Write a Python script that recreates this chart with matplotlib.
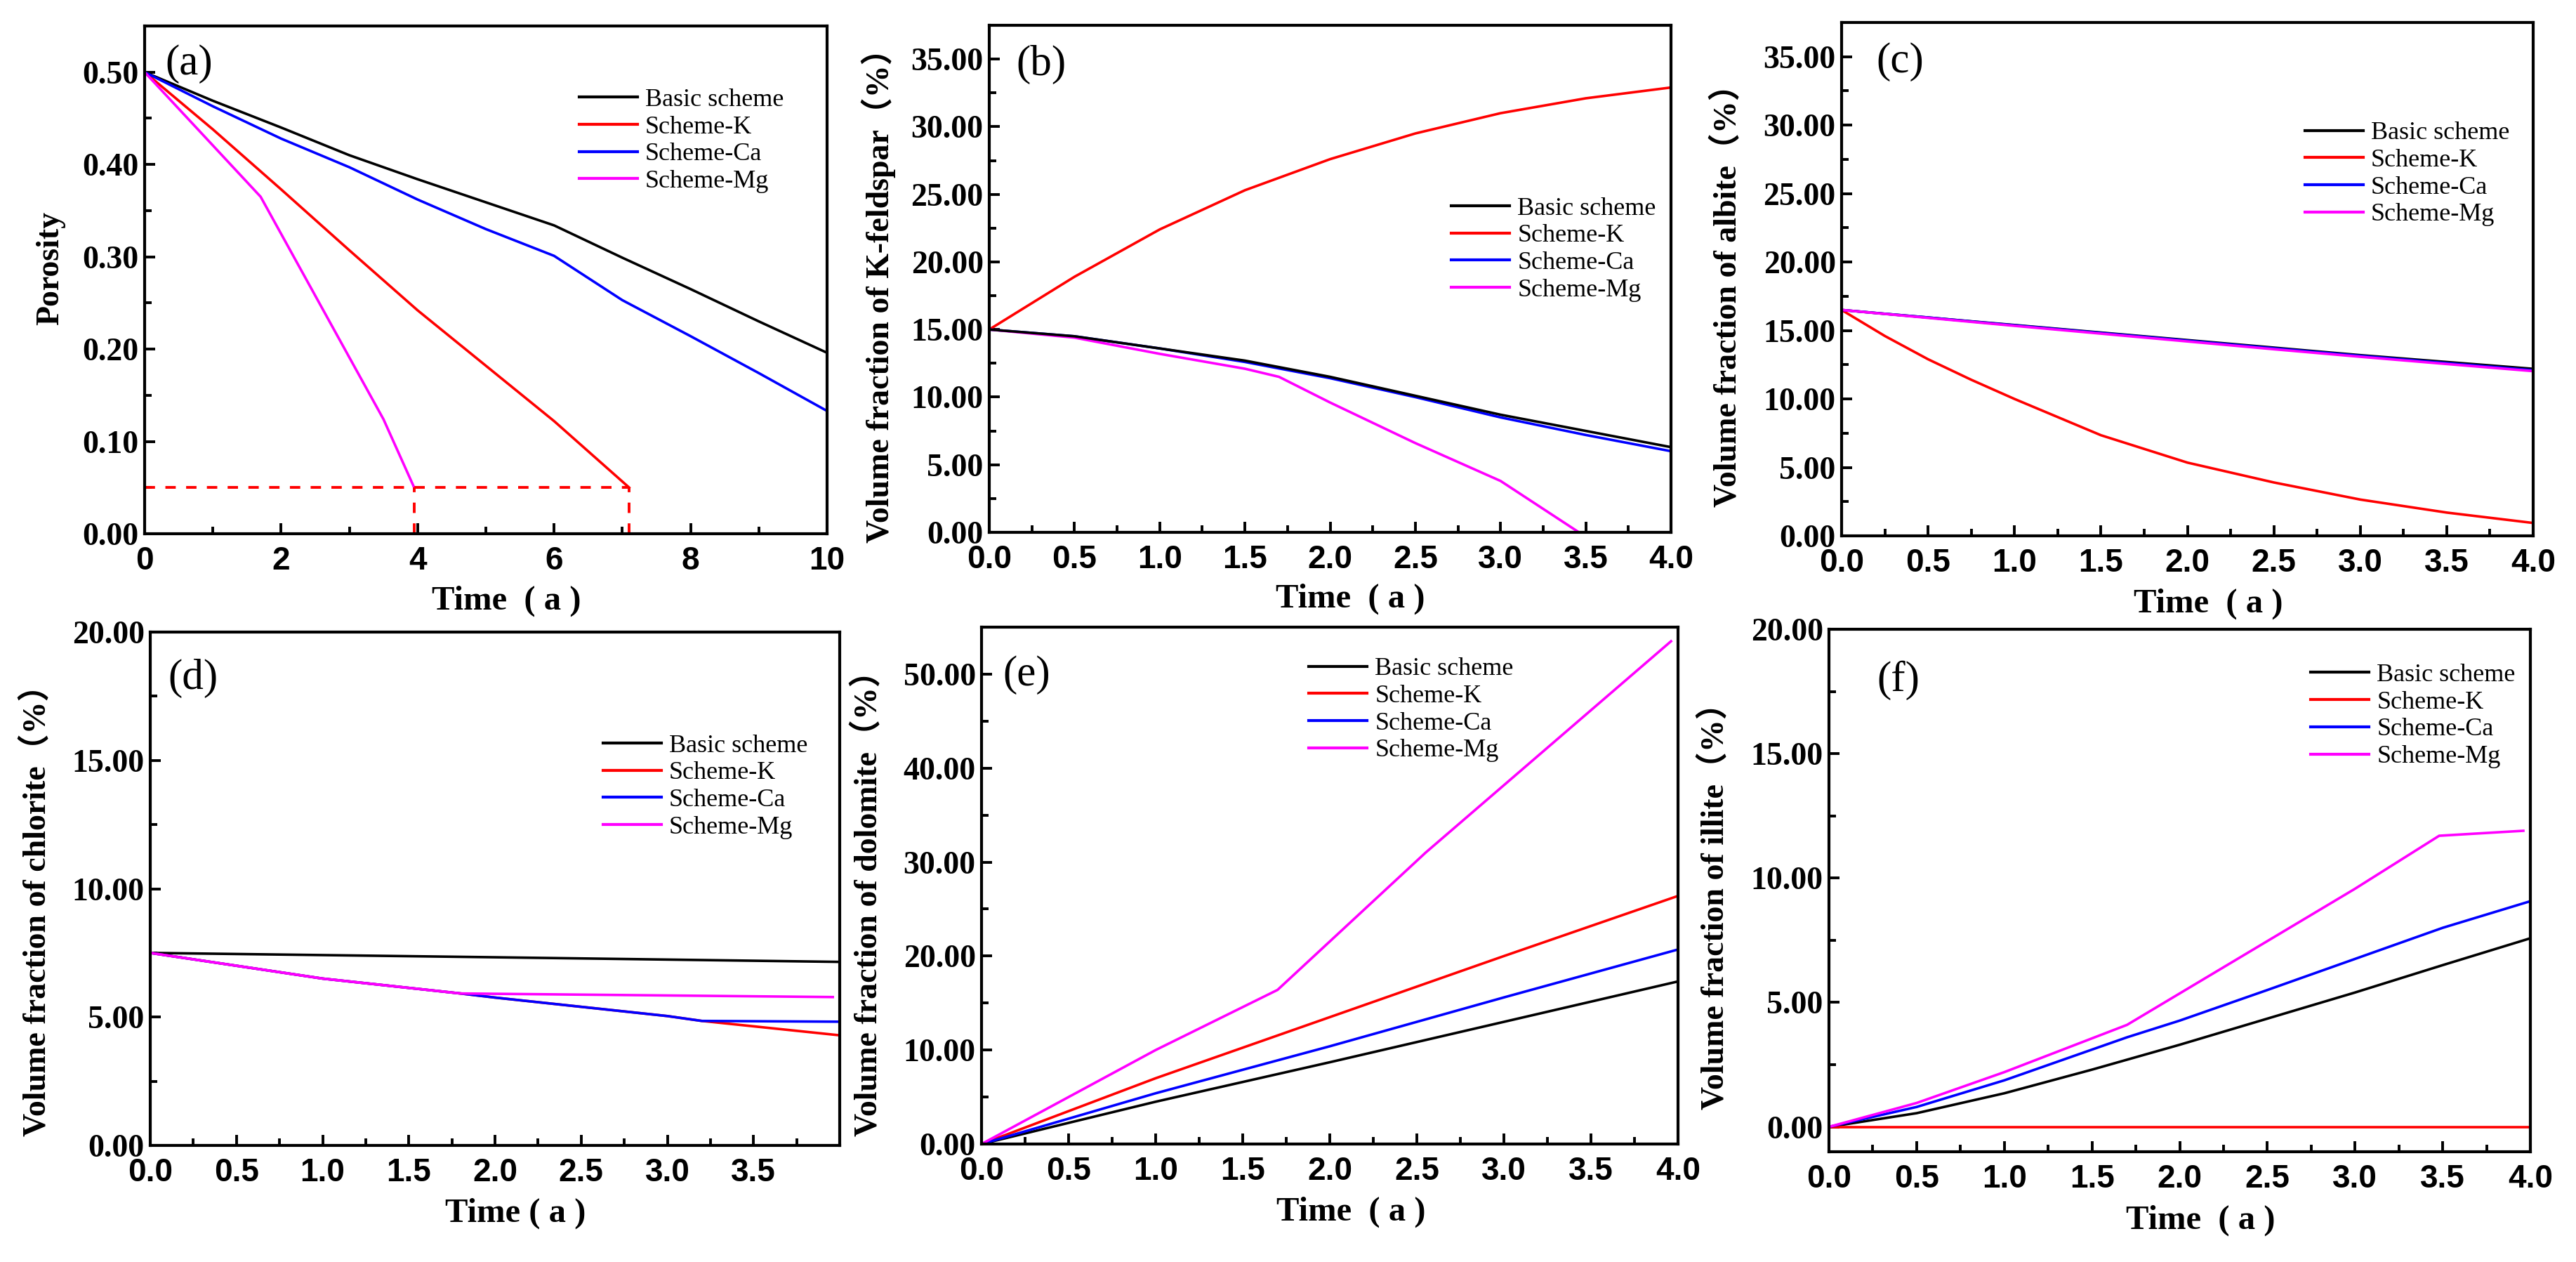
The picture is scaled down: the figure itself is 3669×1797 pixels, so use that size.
import numpy as np
import matplotlib
matplotlib.use('Agg')
import matplotlib.pyplot as plt
from matplotlib.ticker import MultipleLocator, FormatStrFormatter, FixedLocator
from matplotlib.lines import Line2D

plt.rcParams['font.weight'] = 'bold'

labels = ['Basic scheme', 'Scheme-K', 'Scheme-Ca', 'Scheme-Mg']
colors = ['black', '#ff0000', '#0000ff', '#ff00ff']

# (a) porosity
t_a = [0, 1, 2, 3, 4, 5, 6, 7, 8, 9, 10]
por_basic = [0.50, 0.469, 0.440, 0.410, 0.384, 0.359, 0.334, 0.299, 0.265, 0.230, 0.196]
por_ca = [0.50, 0.463, 0.428, 0.397, 0.362, 0.330, 0.301, 0.253, 0.214, 0.174, 0.133]
t_a_k = [0, 1, 2, 3, 4, 5, 6, 7.1]
por_k = [0.50, 0.438, 0.373, 0.307, 0.242, 0.182, 0.122, 0.05]
t_a_mg = [0, 1.7, 3.5, 3.95]
por_mg = [0.50, 0.365, 0.124, 0.05]
por_cut = 0.05
t_cut_mg = 3.95
t_cut_k = 7.1

# (b) K-feldspar
t_b = [0, 0.5, 1.0, 1.5, 2.0, 2.5, 3.0, 3.5, 4.0]
kf_basic = [15.0, 14.5, 13.6, 12.7, 11.5, 10.1, 8.7, 7.5, 6.3]
kf_k = [15.0, 18.9, 22.4, 25.3, 27.6, 29.5, 31.0, 32.1, 32.9]
kf_ca = [15.0, 14.5, 13.6, 12.6, 11.4, 10.0, 8.5, 7.2, 6.0]
t_b_mg = [0, 0.5, 1.0, 1.5, 1.7, 2.0, 2.5, 3.0, 3.46, 3.96]
kf_mg = [15.0, 14.4, 13.2, 12.1, 11.5, 9.6, 6.6, 3.8, 0.0, 0.0]

# (c) albite
t_c = [0, 0.25, 0.5, 0.75, 1.0, 1.5, 2.0, 2.5, 3.0, 3.5, 4.0]
ab_basic = [16.5, 16.22, 15.95, 15.67, 15.4, 14.85, 14.3, 13.75, 13.2, 12.7, 12.2]
ab_k = [16.5, 14.6, 12.9, 11.4, 10.0, 7.35, 5.35, 3.9, 2.65, 1.7, 0.94]
ab_ca = [16.5, 16.22, 15.95, 15.66, 15.38, 14.82, 14.26, 13.7, 13.15, 12.62, 12.1]
ab_mg = [16.5, 16.21, 15.92, 15.63, 15.34, 14.77, 14.2, 13.63, 13.08, 12.55, 12.03]

# (d) chlorite
t_d_basic = [0, 2.0, 4.0]
ch_basic = [7.5, 7.33, 7.15]
t_d_k = [0, 1.0, 1.8, 2.0, 3.0, 3.2, 4.0]
ch_k = [7.5, 6.5, 5.92, 5.76, 5.04, 4.85, 4.29]
t_d_ca = [0, 1.0, 1.8, 2.0, 3.0, 3.2, 4.0]
ch_ca = [7.5, 6.5, 5.92, 5.76, 5.04, 4.85, 4.82]
t_d_mg = [0, 1.0, 1.8, 3.96]
ch_mg = [7.5, 6.5, 5.92, 5.78]

# (e) dolomite
t_e = [0, 1.0, 2.0, 3.0, 4.0]
do_basic = [0.0, 4.5, 8.7, 13.0, 17.3]
do_k = [0.0, 7.0, 13.5, 20.0, 26.4]
do_ca = [0.0, 5.4, 10.4, 15.6, 20.7]
t_e_mg = [0, 0.5, 1.0, 1.7, 2.55, 3.96]
do_mg = [0.0, 5.0, 10.0, 16.4, 31.0, 53.5]

# (f) illite
t_f = [0, 0.5, 1.0, 1.5, 2.0, 2.5, 3.0, 3.5, 4.0]
il_basic = [0.0, 0.55, 1.35, 2.3, 3.3, 4.35, 5.4, 6.5, 7.58]
il_k = [0.0, 0.0, 0.0, 0.0, 0.0, 0.0, 0.0, 0.0, 0.0]
t_f_ca = [0, 0.5, 1.0, 1.7, 2.0, 2.5, 3.0, 3.5, 4.0]
il_ca = [0.0, 0.8, 1.87, 3.6, 4.27, 5.5, 6.75, 8.0, 9.07]
t_f_mg = [0, 0.5, 1.0, 1.7, 3.0, 3.48, 3.96]
il_mg = [0.0, 0.96, 2.2, 4.1, 9.57, 11.7, 11.9]

W, H = 3669, 1797
fig = plt.figure(figsize=(W / 100, H / 100), dpi=100)

serif = ['Liberation Serif', 'Noto Sans CJK SC']


def make_ax(left, top, right, bottom):
    return fig.add_axes([left / W, 1 - bottom / H, (right - left) / W, (bottom - top) / H])


def style(ax, letter, lx, ly, xlabel, ylabel, ylx, yly, leg_x, leg_y,
          xlim, ylim, xmaj, xmin, ymaj, ymin, xfmt, xticks=None):
    ax.set_xlim(*xlim)
    ax.set_ylim(*ylim)
    if xticks is None:
        ax.xaxis.set_major_locator(MultipleLocator(xmaj))
    else:
        ax.xaxis.set_major_locator(FixedLocator(xticks))
    ax.xaxis.set_minor_locator(MultipleLocator(xmin))
    ax.yaxis.set_major_locator(MultipleLocator(ymaj))
    ax.yaxis.set_minor_locator(MultipleLocator(ymin))
    ax.xaxis.set_major_formatter(FormatStrFormatter(xfmt))
    ax.yaxis.set_major_formatter(FormatStrFormatter('%.2f'))
    ax.tick_params(which='both', direction='in', top=False, right=False, width=2.8)
    ax.tick_params(which='major', length=11)
    ax.tick_params(which='minor', length=7)
    ax.tick_params(axis='x', pad=12, labelsize=33, labelfontfamily='Liberation Sans')
    ax.tick_params(axis='y', pad=6, labelsize=33, labelfontfamily='Liberation Serif')
    for sp in ax.spines.values():
        sp.set_linewidth(3)
    ax.set_xlabel(xlabel, family='Liberation Serif', fontweight='bold', fontsize=35, va='center')
    ax.xaxis.set_label_coords(0.53, -0.132)
    ax.set_ylabel(ylabel, family=serif, fontweight='bold', fontsize=33, va='center')
    ax.yaxis.set_label_coords(ylx, yly)
    ax.text(lx, ly, letter, transform=ax.transAxes, ha='left', va='top',
            family='Liberation Serif', fontweight='normal', fontsize=44)
    leg = ax.legend(loc='center left', bbox_to_anchor=(leg_x, leg_y), frameon=False,
                    prop={'family': 'Liberation Serif', 'size': 26, 'weight': 'normal'},
                    handlelength=2.3, handletextpad=0.3, labelspacing=0.15,
                    borderpad=0, borderaxespad=0)
    for line in leg.get_lines():
        line.set_linewidth(3)


lw = 2.6
dash = (0, (3.8, 3.8))

# (a)
ax = make_ax(206, 37, 1178, 760)
ax.plot(t_a, por_basic, color=colors[0], lw=lw, label=labels[0])
ax.plot(t_a_k, por_k, color=colors[1], lw=lw, label=labels[1])
ax.plot(t_a, por_ca, color=colors[2], lw=lw, label=labels[2])
ax.plot(t_a_mg, por_mg, color=colors[3], lw=lw, label=labels[3])
ax.plot([0, t_cut_k], [por_cut, por_cut], color=colors[1], lw=2.8, ls=dash)
ax.plot([t_cut_mg, t_cut_mg], [0, por_cut], color=colors[1], lw=2.8, ls=dash)
ax.plot([t_cut_k, t_cut_k], [0, por_cut], color=colors[1], lw=2.8, ls=dash)
style(ax, '(a)', 0.03, 0.964, 'Time  ( a )', 'Porosity', -0.138, 0.523, 0.637, 0.774,
      (0, 10), (0, 0.55), 2, 1, 0.1, 0.05, '%d')

# (b)
ax = make_ax(1409, 36, 2380, 758)
ax.plot(t_b, kf_k, color=colors[1], lw=lw)
ax.plot(t_b, kf_ca, color=colors[2], lw=lw)
ax.plot(t_b_mg, kf_mg, color=colors[3], lw=lw)
ax.plot(t_b, kf_basic, color=colors[0], lw=lw)
for c, l in zip(colors, labels):
    ax.add_line(Line2D([], [], color=c, lw=lw, label=l))
style(ax, '(b)', 0.04, 0.962, 'Time  ( a )', 'Volume fraction of K-feldspar（%）', -0.162, 0.482,
      0.678, 0.558, (0, 4), (0, 37.5), 0.5, 0.25, 5, 2.5, '%.1f')

# (c)
ax = make_ax(2623, 32, 3608, 763)
ax.plot(t_c, ab_basic, color=colors[0], lw=lw, label=labels[0])
ax.plot(t_c, ab_k, color=colors[1], lw=lw, label=labels[1])
ax.plot(t_c, ab_ca, color=colors[2], lw=lw, label=labels[2])
ax.plot(t_c, ab_mg, color=colors[3], lw=lw, label=labels[3])
style(ax, '(c)', 0.05, 0.962, 'Time  ( a )', 'Volume fraction of albite（%）', -0.165, 0.484,
      0.67, 0.705, (0, 4), (0, 37.5), 0.5, 0.25, 5, 2.5, '%.1f')

# (d)
ax = make_ax(214, 900, 1196, 1631)
ax.plot(t_d_basic, ch_basic, color=colors[0], lw=lw, label=labels[0])
ax.plot(t_d_k, ch_k, color=colors[1], lw=lw, label=labels[1])
ax.plot(t_d_ca, ch_ca, color=colors[2], lw=lw, label=labels[2])
ax.plot(t_d_mg, ch_mg, color=colors[3], lw=lw, label=labels[3])
style(ax, '(d)', 0.026, 0.948, 'Time ( a )', 'Volume fraction of chlorite（%）', -0.165, 0.473,
      0.657, 0.699, (0, 4), (0, 20), 0.5, 0.25, 5, 2.5, '%.1f',
      xticks=[0, 0.5, 1.0, 1.5, 2.0, 2.5, 3.0, 3.5])

# (e)
ax = make_ax(1398, 893, 2390, 1629)
ax.plot(t_e, do_basic, color=colors[0], lw=lw, label=labels[0])
ax.plot(t_e, do_k, color=colors[1], lw=lw, label=labels[1])
ax.plot(t_e, do_ca, color=colors[2], lw=lw, label=labels[2])
ax.plot(t_e_mg, do_mg, color=colors[3], lw=lw, label=labels[3])
style(ax, '(e)', 0.031, 0.946, 'Time  ( a )', 'Volume fraction of dolomite（%）', -0.163, 0.481,
      0.47, 0.84, (0, 4), (0, 55), 0.5, 0.25, 10, 5, '%.1f')

# (f)
ax = make_ax(2605, 896, 3604, 1640)
ax.plot(t_f, il_basic, color=colors[0], lw=lw, label=labels[0])
ax.plot(t_f, il_k, color=colors[1], lw=lw, label=labels[1])
ax.plot(t_f_ca, il_ca, color=colors[2], lw=lw, label=labels[2])
ax.plot(t_f_mg, il_mg, color=colors[3], lw=lw, label=labels[3])
style(ax, '(f)', 0.068, 0.94, 'Time  ( a )', 'Volume fraction of illite（%）', -0.163, 0.485,
      0.687, 0.834, (0, 4), (-1, 20), 0.5, 0.25, 5, 2.5, '%.1f')

fig.savefig('out.png', dpi=100)
